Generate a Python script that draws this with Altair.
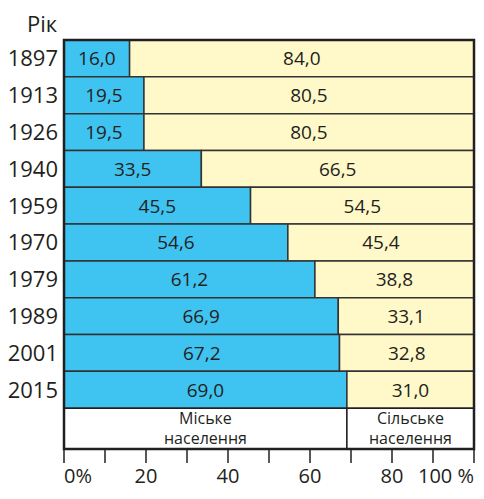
import altair as alt
import pandas as pd

# ---- data ----
years = ["1897", "1913", "1926", "1940", "1959", "1970", "1979", "1989", "2001", "2015"]
urban = [16.0, 19.5, 19.5, 33.5, 45.5, 54.6, 61.2, 66.9, 67.2, 69.0]
rural = [84.0, 80.5, 80.5, 66.5, 54.5, 45.4, 38.8, 33.1, 32.8, 31.0]
urban_caption = "Міське\nнаселення"
rural_caption = "Сільське\nнаселення"
year_header = "Рік"
tick_values = [0, 10, 20, 30, 40, 50, 60, 70, 80, 90, 100]
tick_label_values = [0, 20, 40, 60, 80, 100]
tick_label_texts = ["0%", "20", "40", "60", "80", "100 %"]

# ---- styling / layout ----
BLUE = "#3fc4f1"
YELLOW = "#fff9c9"
INK = "#231f20"
FONT = "Open Sans"
BOX_ROWS = 1.11
N = len(years)
TOTAL = N + BOX_ROWS
W, H = 410, 409
TICK = 14


def fmt(v):
    return f"{v:.1f}".replace(".", ",")


records = []
for i, (yr, u, r) in enumerate(zip(years, urban, rural)):
    records.append({"year": yr, "row": i, "part": "urban", "start": 0.0, "end": u, "label": fmt(u)})
    records.append({"year": yr, "row": i, "part": "rural", "start": u, "end": u + r, "label": fmt(r)})
bars = pd.DataFrame(records)

box = pd.DataFrame({
    "start": [0.0, urban[-1]],
    "end": [urban[-1], urban[-1] + rural[-1]],
    "caption": [urban_caption, rural_caption],
})
frame = pd.DataFrame({"start": [tick_values[0]], "end": [tick_values[-1]]})
header = pd.DataFrame({"t": [year_header]})
ticks = pd.DataFrame({"v": tick_values})
tick_labels = pd.DataFrame({"v": tick_label_values, "t": tick_label_texts})

xs = alt.Scale(domain=[0, 100], nice=False, zero=False)
ys = alt.Scale(domain=[0, TOTAL], nice=False, zero=False, reverse=True)

base = alt.Chart(bars).transform_calculate(
    row_end="datum.row + 1",
    mid_x="(datum.start + datum.end) / 2",
    mid_y="datum.row + 0.5",
)

rects = base.mark_rect(stroke="#333333", strokeWidth=1.5).encode(
    x=alt.X("start:Q", scale=xs, axis=None),
    x2="end:Q",
    y=alt.Y("row:Q", scale=ys, axis=None),
    y2="row_end:Q",
    color=alt.Color("part:N", scale=alt.Scale(domain=["urban", "rural"], range=[BLUE, YELLOW]), legend=None),
)

values = base.mark_text(font=FONT, fontSize=19, color=INK, baseline="middle", dy=1).encode(
    x=alt.X("mid_x:Q", scale=xs, axis=None),
    y=alt.Y("mid_y:Q", scale=ys, axis=None),
    text="label:N",
)

year_labels = base.transform_filter("datum.part == 'urban'").mark_text(
    font=FONT, fontSize=22, color=INK, align="right", baseline="middle", dx=-6, dy=1
).encode(
    x=alt.value(0),
    y=alt.Y("mid_y:Q", scale=ys, axis=None),
    text="year:N",
)

box_base = alt.Chart(box).transform_calculate(
    row=f"{N}",
    row_end=f"{N} + {BOX_ROWS}",
    mid_x="(datum.start + datum.end) / 2",
)
box_rects = box_base.mark_rect(fill="white", stroke=INK, strokeWidth=1.5).encode(
    x=alt.X("start:Q", scale=xs, axis=None),
    x2="end:Q",
    y=alt.Y("row:Q", scale=ys, axis=None),
    y2="row_end:Q",
)
box_text = box_base.mark_text(
    font=FONT, fontSize=16, color=INK, lineBreak="\n", lineHeight=20, baseline="alphabetic", dy=16
).encode(
    x=alt.X("mid_x:Q", scale=xs, axis=None),
    y=alt.Y("row:Q", scale=ys, axis=None),
    text="caption:N",
)

outer = alt.Chart(frame).transform_calculate(
    top="0", bottom=f"{TOTAL}"
).mark_rect(fill="transparent", stroke=INK, strokeWidth=2.5).encode(
    x=alt.X("start:Q", scale=xs, axis=None),
    x2="end:Q",
    y=alt.Y("top:Q", scale=ys, axis=None),
    y2="bottom:Q",
)

tick_marks = alt.Chart(ticks).mark_rule(color=INK, strokeWidth=1.5).encode(
    x=alt.X("v:Q", scale=xs, axis=None),
    y=alt.value(H),
    y2=alt.value(H + TICK),
)

head = alt.Chart(header).mark_text(
    font=FONT, fontSize=22, color=INK, align="center", baseline="alphabetic"
).encode(
    x=alt.value(-22),
    y=alt.value(-8),
    text="t:N",
)

tl_base = alt.Chart(tick_labels)


def tick_text(filt, align):
    return tl_base.transform_filter(filt).mark_text(
        font=FONT, fontSize=20, color=INK, align=align, baseline="alphabetic", dy=TICK + 20
    ).encode(
        x=alt.X("v:Q", scale=xs, axis=None),
        y=alt.value(H),
        text="t:N",
    )


first_lab = tick_text(f"datum.v == {tick_label_values[0]}", "left")
mid_lab = tick_text(f"datum.v != {tick_label_values[0]} && datum.v != {tick_label_values[-1]}", "center")
last_lab = tick_text(f"datum.v == {tick_label_values[-1]}", "right")

chart = alt.layer(
    rects, values, box_rects, box_text, outer, tick_marks, year_labels, head, first_lab, mid_lab, last_lab
).properties(
    width=W,
    height=H,
    autosize=alt.AutoSizeParams(type="none"),
    padding={"left": 56, "top": 32, "right": 2, "bottom": 39},
).configure_view(stroke=None).configure(background="white")

chart.save("out.html", embed_options={"renderer": "svg", "actions": False})
